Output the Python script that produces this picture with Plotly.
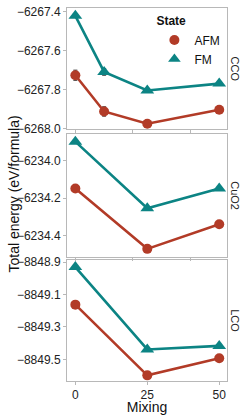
import plotly.graph_objects as go

# ---- data ----
mix_cco = [0, 10, 25, 50]
cco_afm = [-6267.727, -6267.913, -6267.976, -6267.904]
cco_afm_err = [0.026, 0.024, 0.0, 0.0]
cco_fm = [-6267.422, -6267.710, -6267.805, -6267.770]
cco_fm_err = [0.005, 0.017, 0.0, 0.0]

mix = [0, 25, 50]
cuo2_afm = [-6234.148, -6234.472, -6234.340]
cuo2_fm = [-6233.896, -6234.254, -6234.148]
lco_afm = [-8849.162, -8849.599, -8849.493]
lco_fm = [-8848.930, -8849.439, -8849.417]

panels = ["CCO", "CuO2", "LCO"]
x_ticks = [0, 25, 50]

RED = "#B23B27"
TEAL = "#0C8484"
FONT = "Liberation Sans, Arial, sans-serif"

fig = go.Figure()

def add(xv, yv, color, sym, size, ax, err=None):
    kw = {}
    if err is not None:
        kw["error_y"] = dict(type="data", array=err, visible=True,
                             color="#333333", thickness=1, width=2)
    fig.add_trace(go.Scatter(x=xv, y=yv, mode="lines+markers",
                             line=dict(color=color, width=2.6),
                             marker=dict(color=color, symbol=sym, size=size),
                             xaxis="x" + ax, yaxis="y" + ax,
                             showlegend=False, **kw))

add(mix_cco, cco_fm, TEAL, "triangle-up", 12, "", cco_fm_err)
add(mix_cco, cco_afm, RED, "circle", 10, "", cco_afm_err)
add(mix, cuo2_fm, TEAL, "triangle-up", 12, "2")
add(mix, cuo2_afm, RED, "circle", 10, "2")
add(mix, lco_fm, TEAL, "triangle-up", 12, "3")
add(mix, lco_afm, RED, "circle", 10, "3")

# legend-only traces
fig.add_trace(go.Scatter(x=[None], y=[None], mode="markers", name="AFM",
                         marker=dict(color=RED, symbol="circle", size=10)))
fig.add_trace(go.Scatter(x=[None], y=[None], mode="markers", name="FM",
                         marker=dict(color=TEAL, symbol="triangle-up", size=11)))

H, T, B = 415, 8, 34
ph = H - T - B
def dom(top, bot):
    return [(H - B - bot) / ph, (H - B - top) / ph]

GRID = "#B8B8B8"
axcommon = dict(showgrid=False, zeroline=False, showline=True, mirror=True,
                linecolor=GRID, linewidth=1, ticks="outside", ticklen=3,
                tickcolor=GRID, tickfont=dict(size=12, color="#222222", family=FONT))

xr = [-2.9, 52.7]
fig.update_layout(
    width=249, height=415,
    margin=dict(l=67, r=22, t=T, b=B, autoexpand=False),
    paper_bgcolor="white", plot_bgcolor="white",
    font=dict(family=FONT, color="#111111"),
    xaxis=dict(range=xr, showticklabels=False, anchor="y", **axcommon),
    xaxis2=dict(range=xr, showticklabels=False, anchor="y2", matches="x", **axcommon),
    xaxis3=dict(range=xr, tickvals=x_ticks, anchor="y3", matches="x",
                title=dict(text="Mixing", font=dict(size=14, family=FONT), standoff=3),
                **axcommon),
    yaxis=dict(domain=dom(8, 129), range=[-6268.003, -6267.382],
               tickvals=[-6268.0, -6267.8, -6267.6, -6267.4], tickformat=".1f",
               anchor="x", **axcommon),
    yaxis2=dict(domain=dom(134, 256.5), range=[-6234.513, -6233.855],
                tickvals=[-6234.4, -6234.2, -6234.0], tickformat=".1f",
                anchor="x2", **axcommon),
    yaxis3=dict(domain=dom(259.5, 381), range=[-8849.634, -8848.883],
                tickvals=[-8849.5, -8849.3, -8849.1, -8848.9], tickformat=".1f",
                anchor="x3", **axcommon),
    legend=dict(x=0.99, y=0.995, xanchor="right", yanchor="top",
                title=dict(text="<b>State</b>", font=dict(size=12, family=FONT)),
                font=dict(size=12, family=FONT), itemwidth=30,
                bgcolor="rgba(0,0,0,0)", tracegroupgap=0),
    showlegend=True,
)

# facet strip labels
for name, yd in zip(panels, [dom(8, 129), dom(134, 256.5), dom(259.5, 381)]):
    fig.add_annotation(text=name, x=1.0, xref="paper", xshift=8, xanchor="center",
                       y=(yd[0] + yd[1]) / 2, yref="paper", yanchor="middle",
                       showarrow=False, textangle=90,
                       font=dict(size=11, family=FONT, color="#222222"))

# y-axis title
fig.add_annotation(text="Total energy (eV/formula)", x=0, xref="paper", xshift=-54,
                   xanchor="center", yanchor="middle",
                   y=(dom(259.5, 381)[0] + dom(8, 129)[1]) / 2, yref="paper",
                   showarrow=False, textangle=-90,
                   font=dict(size=14, family=FONT, color="#111111"))

fig.write_html("out.html", config={"displayModeBar": False},
               post_script="document.body.style.margin='0';document.body.style.overflow='hidden';")
